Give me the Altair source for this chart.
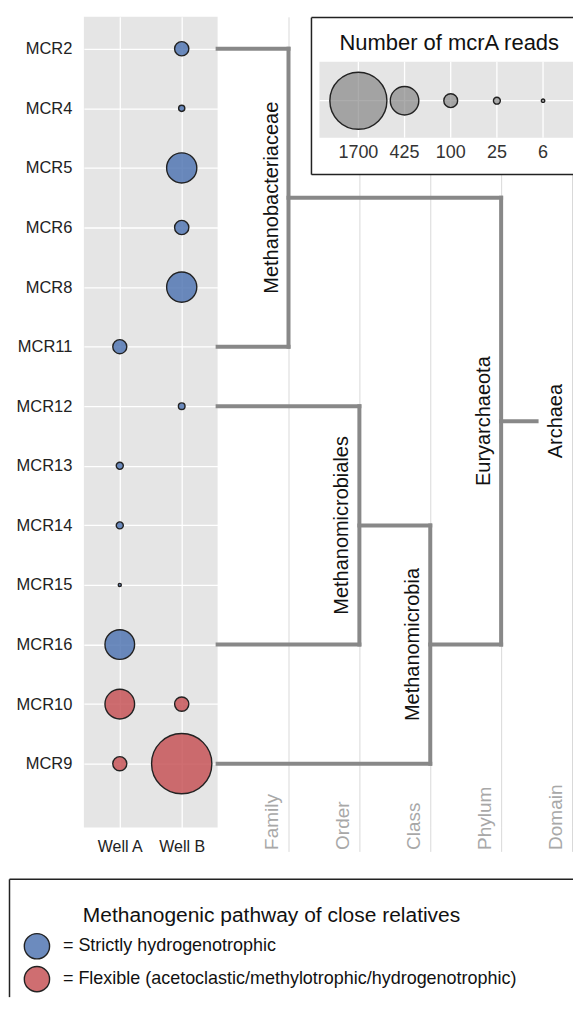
import json
import altair as alt
import pandas as pd

# ------------------------------------------------------------------ data
clones = ["MCR2", "MCR4", "MCR5", "MCR6", "MCR8", "MCR11", "MCR12",
          "MCR13", "MCR14", "MCR15", "MCR16", "MCR10", "MCR9"]
wells = ["Well A", "Well B"]
reads_well_a = [0, 0, 0, 0, 0, 103, 0, 26, 26, 5, 459, 459, 103]
reads_well_b = [106, 20, 476, 106, 476, 0, 23, 0, 0, 0, 0, 106, 1897]

pathway_keys = ["Strictly hydrogenotrophic",
                "Flexible (acetoclastic/methylotrophic/hydrogenotrophic)"]
pathway_colors = ["#4c72b0", "#c44e52"]
clone_pathway = [0] * 11 + [1] * 2          # index into pathway_keys

legend_title_pathway = "Methanogenic pathway of close relatives"
legend_title_reads = "Number of mcrA reads"
legend_reads = [1700, 425, 100, 25, 6]

ranks = ["Family", "Order", "Class", "Phylum", "Domain"]
rank_levels = [1, 2, 3, 4, 5]

taxa = ["Methanobacteriaceae", "Methanomicrobiales", "Methanomicrobia",
        "Euryarchaeota", "Archaea"]
taxon_level = [1, 2, 3, 4, 4.5]
taxon_children = [["MCR2", "MCR11"], ["MCR12", "MCR16"],
                  ["Methanomicrobiales", "MCR9"],
                  ["Methanobacteriaceae", "Methanomicrobia"],
                  ["Euryarchaeota"]]

FONT = "Liberation Sans"

# ------------------------------------------------------------------ tables
bub = []
for i, c in enumerate(clones):
    for w, vals in zip(wells, (reads_well_a, reads_well_b)):
        if vals[i] > 0:
            bub.append({"clone": c, "row": i, "well": w, "reads": vals[i],
                        "pathway": pathway_keys[clone_pathway[i]]})
bub_df = pd.DataFrame(bub)

pos = {c: (0.0, float(i)) for i, c in enumerate(clones)}
segs, labs = [], []
for name, lvl, kids in zip(taxa, taxon_level, taxon_children):
    ys = [pos[k][1] for k in kids]
    for k in kids:
        segs.append({"x": pos[k][0], "x2": lvl, "y": pos[k][1], "y2": pos[k][1]})
    if len(kids) > 1:
        segs.append({"x": lvl, "x2": lvl, "y": min(ys), "y2": max(ys)})
    mid = sum(ys) / len(ys)
    pos[name] = (lvl, mid)
    labs.append({"taxon": name, "x": lvl, "y": mid, "root": len(kids) == 1})
seg_df = pd.DataFrame(segs)
lab_df = pd.DataFrame(labs)

leg_df = pd.DataFrame({"idx": list(range(len(legend_reads))),
                       "reads": legend_reads,
                       "label": [str(v) for v in legend_reads]})
pw_df = pd.DataFrame({"pathway": pathway_keys,
                      "text": ["= " + k for k in pathway_keys]})
one = pd.DataFrame({"k": [0]})

# ------------------------------------------------------------------ geometry
DW = 356                 # dendrogram panel width
PX_LEVEL = 71            # pixels per taxonomic rank
PX_LEG = 46.25           # pixels between size-legend symbols
LEG0 = 141               # first size-legend symbol, from dendrogram left

# ------------------------------------------------------------------ scales
yscale = alt.Scale(domain=[-0.536, 13.07], reverse=True, nice=False, zero=False)
size_scale = alt.Scale(domain=[0, 1700], range=[0, 3267])
color_scale = alt.Scale(domain=pathway_keys, range=pathway_colors)
xlev = alt.Scale(domain=[0, DW / PX_LEVEL], nice=False, zero=False)
lx = alt.Scale(domain=[-LEG0 / PX_LEG, (DW - LEG0) / PX_LEG], nice=False, zero=False)

# ------------------------------------------------------------------ bubbles
bubbles = alt.Chart(bub_df).mark_circle(
    opacity=1, fillOpacity=0.82, stroke="#222222", strokeWidth=1.4
).encode(
    x=alt.X("well:N", scale=alt.Scale(domain=wells, type="point", padding=0.58),
            axis=alt.Axis(title=None, labelAngle=0, grid=True, gridColor="white",
                          gridWidth=1.3, ticks=False, tickSize=0, domain=False,
                          labelFontSize=16, labelColor="#222222", labelPadding=11)),
    y=alt.Y("row:Q", scale=yscale,
            axis=alt.Axis(title=None, values=list(range(len(clones))),
                          labelExpr=json.dumps(clones) + "[datum.value]",
                          grid=True, gridColor="white", gridWidth=1.3,
                          ticks=False, tickSize=0, domain=False,
                          labelFontSize=16.5, labelColor="#222222",
                          labelPadding=12, minExtent=75)),
    size=alt.Size("reads:Q", scale=size_scale, legend=None),
    color=alt.Color("pathway:N", scale=color_scale, legend=None),
).properties(width=134, height=812,
             view=alt.ViewBackground(fill="#e5e5e5", stroke="transparent"))

# ------------------------------------------------------------------ dendrogram
xenc = alt.X("x:Q", scale=xlev,
             axis=alt.Axis(title=None, values=rank_levels,
                           labelExpr=json.dumps(ranks) + "[datum.value - 1]",
                           grid=True, gridColor="#d9d9d9", gridWidth=1,
                           ticks=True, tickSize=24, tickColor="#d9d9d9", tickWidth=1,
                           domain=False, labelAngle=270, labelAlign="left",
                           labelBaseline="alphabetic", labelOffset=-11,
                           labelPadding=-2, labelFontSize=19, labelColor="#a8a8a8",
                           labelFlush=False, labelOverlap=False))
yenc = alt.Y("y:Q", scale=yscale, axis=None)

lines = alt.Chart(seg_df).mark_rule(
    color="#888888", strokeWidth=4, strokeCap="square"
).encode(x=xenc, x2="x2:Q", y=yenc, y2="y2:Q")

inner_txt = alt.Chart(lab_df).transform_filter("!datum.root").mark_text(
    angle=270, align="center", baseline="alphabetic", dy=-11,
    fontSize=20, color="#111111"
).encode(x=xenc, y=yenc, text="taxon:N")

root_txt = alt.Chart(lab_df).transform_filter("datum.root").mark_text(
    angle=270, align="center", baseline="alphabetic", dy=25,
    fontSize=20, color="#111111"
).encode(x=xenc, y=yenc, text="taxon:N")

tree = alt.layer(lines, inner_txt, root_txt)

# size legend (top right)
BX = 94
box = alt.Chart(one).mark_rect(fill="white").encode(
    x=alt.value(BX), x2=alt.value(DW), y=alt.value(0), y2=alt.value(158))
box_top = alt.Chart(one).mark_rule(color="#222222", strokeWidth=1.5).encode(
    x=alt.value(BX), x2=alt.value(DW), y=alt.value(0.75))
box_bot = alt.Chart(one).mark_rule(color="#222222", strokeWidth=1.5).encode(
    x=alt.value(BX), x2=alt.value(DW), y=alt.value(158))
box_left = alt.Chart(one).mark_rule(color="#222222", strokeWidth=1.5).encode(
    x=alt.value(BX), y=alt.value(0.75), y2=alt.value(158))
panel = alt.Chart(one).mark_rect(fill="#e5e5e5").encode(
    x=alt.value(BX + 8), x2=alt.value(DW), y=alt.value(45), y2=alt.value(121))
hgrid = alt.Chart(one).mark_rule(color="white", strokeWidth=1.3).encode(
    x=alt.value(BX + 8), x2=alt.value(DW), y=alt.value(84))
vgrid = alt.Chart(leg_df).mark_rule(color="white", strokeWidth=1.3).encode(
    x=alt.X("idx:Q", scale=lx, axis=None), y=alt.value(45), y2=alt.value(121))
leg_circles = alt.Chart(leg_df).mark_circle(
    opacity=1, fill="#808080", fillOpacity=0.65, stroke="#222222", strokeWidth=1.4
).encode(x=alt.X("idx:Q", scale=lx, axis=None), y=alt.value(84),
         size=alt.Size("reads:Q", scale=size_scale, legend=None))
leg_labels = alt.Chart(leg_df).mark_text(
    fontSize=18, color="#333333", baseline="middle"
).encode(x=alt.X("idx:Q", scale=lx, axis=None), y=alt.value(136), text="label:N")
leg_title = alt.Chart(pd.DataFrame({"t": [legend_title_reads]})).mark_text(
    fontSize=22, color="#111111", baseline="middle"
).encode(x=alt.value(232), y=alt.value(26), text="t:N")

size_legend = alt.layer(box, panel, hgrid, vgrid, leg_circles, leg_labels,
                        leg_title, box_top, box_bot, box_left)

dendro = alt.layer(tree, size_legend).resolve_scale(x="independent").properties(
    width=DW, height=812)

top = alt.hconcat(bubbles, dendro, spacing=0, bounds="flush")

# ------------------------------------------------------------------ pathway legend
# this view is column-aligned with the bubble panel (left edge at page x=84)
LH = 118
LW = 134 + DW
LEFT = -74.5
pw_top = alt.Chart(one).mark_rule(color="#222222", strokeWidth=1.5).encode(
    x=alt.value(LEFT), x2=alt.value(LW), y=alt.value(0))
pw_left = alt.Chart(one).mark_rule(color="#222222", strokeWidth=1.5).encode(
    x=alt.value(LEFT), y=alt.value(0), y2=alt.value(LH))
pw_title = alt.Chart(pd.DataFrame({"t": [legend_title_pathway]})).mark_text(
    fontSize=21, color="#111111", baseline="middle", align="center"
).encode(x=alt.value(188), y=alt.value(37), text="t:N")
pw_y = alt.Y("pathway:N", scale=alt.Scale(domain=pathway_keys, range=[67, 100],
                                          padding=0), axis=None)
pw_circ = alt.Chart(pw_df).mark_circle(
    opacity=1, fillOpacity=0.82, stroke="#222222", strokeWidth=1.4
).encode(x=alt.value(-47), y=pw_y, size=alt.value(640),
         color=alt.Color("pathway:N", scale=color_scale, legend=None))
pw_text = alt.Chart(pw_df).mark_text(
    fontSize=18, color="#111111", align="left", baseline="middle"
).encode(x=alt.value(-21), y=pw_y, text="text:N")

pw_legend = alt.layer(pw_top, pw_left, pw_title, pw_circ, pw_text).properties(
    width=LW, height=LH)

chart = alt.vconcat(top, pw_legend, spacing=24).properties(
    padding={"left": 0, "top": 8, "right": 0, "bottom": 0}
).configure(font=FONT).configure_view(strokeWidth=0)

chart.save("out.html", embed_options={"renderer": "svg", "actions": False})
